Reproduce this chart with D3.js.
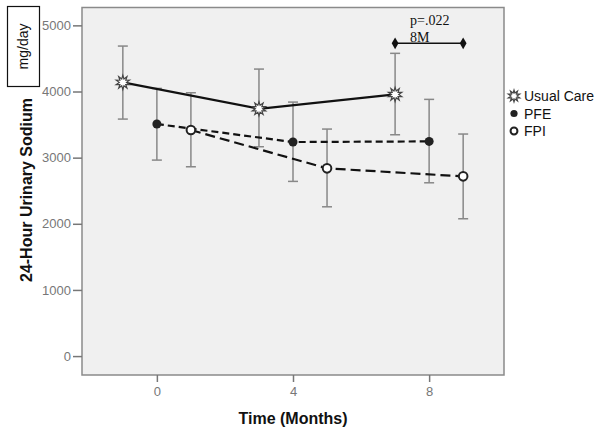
<!DOCTYPE html>
<html><head><meta charset="utf-8">
<script src="https://cdn.jsdelivr.net/npm/d3@7"></script>
<style>body{margin:0;background:#fff;}svg{display:block;font-family:"Liberation Sans",Arial,sans-serif;}</style>
</head><body>
<svg id="c" width="604" height="435"></svg>
<script>
const groups = ["Usual Care", "PFE", "FPI"];
const xTicks = [0, 4, 8];
const yTicks = [0, 1000, 2000, 3000, 4000, 5000];
const ucX = [-1, 3, 7];
const ucMean = [4138, 3739, 3956];
const ucHi = [4687, 4339, 4577];
const ucLo = [3583, 3165, 3346];
const pfeX = [0, 4, 8];
const pfeMean = [3508, 3236, 3246];
const pfeHi = [4047, 3840, 3881];
const pfeLo = [2963, 2641, 2620];
const fpiX = [1, 5, 9];
const fpiMean = [3417, 2838, 2717];
const fpiHi = [3981, 3432, 3357];
const fpiLo = [2862, 2257, 2076];
const annX = [7, 9];
const annY = 4728;
const annText = ["p=.022", "8M"];

const svg = d3.select("#c");
const L = 82, R = 504, T = 7.5, B = 375;
const x = d3.scaleLinear().domain([-2.2, 10.2]).range([L, R]);
const y = d3.scaleLinear().domain([-286, 5270]).range([B, T]);

svg.append("rect").attr("x", L).attr("y", T).attr("width", R - L).attr("height", B - T)
  .attr("fill", "#f0f0f0").attr("stroke", "#8a8a8a").attr("stroke-width", 1.5);

// axes
const gy = svg.append("g").attr("transform", `translate(${L},0)`)
  .call(d3.axisLeft(y).tickValues(yTicks).tickSize(9).tickPadding(2).tickFormat(d3.format("d")));
const gx = svg.append("g").attr("transform", `translate(0,${B})`)
  .call(d3.axisBottom(x).tickValues(xTicks).tickSize(7).tickPadding(5).tickFormat(d3.format("d")));
[gx, gy].forEach(g => {
  g.select(".domain").remove();
  g.selectAll("line").attr("stroke", "#777").attr("stroke-width", 1.5);
  g.selectAll("text").attr("fill", "#777").style("font-size", "13px");
});

// titles
svg.append("text").attr("x", 293).attr("y", 424).attr("text-anchor", "middle")
  .style("font-size", "16px").style("font-weight", "bold").attr("fill", "#111").text("Time (Months)");
svg.append("text").attr("transform", "translate(32,190) rotate(-90)").attr("text-anchor", "middle")
  .style("font-size", "16px").style("font-weight", "bold").attr("fill", "#111").text("24-Hour Urinary Sodium");
svg.append("rect").attr("x", 7.5).attr("y", 6.5).attr("width", 32).attr("height", 80)
  .attr("fill", "#fff").attr("stroke", "#111").attr("stroke-width", 1.2);
svg.append("text").attr("transform", "translate(28,46.5) rotate(-90)").attr("text-anchor", "middle")
  .style("font-size", "14px").attr("fill", "#111").text("mg/day");

const series = [
  {name: groups[0], xs: ucX, m: ucMean, hi: ucHi, lo: ucLo, dash: null, marker: "star"},
  {name: groups[1], xs: pfeX, m: pfeMean, hi: pfeHi, lo: pfeLo, dash: "7,4", marker: "dot"},
  {name: groups[2], xs: fpiX, m: fpiMean, hi: fpiHi, lo: fpiLo, dash: "10,5", marker: "ring"}
];

// error bars
series.forEach(s => {
  const g = svg.append("g").attr("stroke", "#888").attr("stroke-width", 1.5);
  s.xs.forEach((xv, i) => {
    g.append("line").attr("x1", x(xv)).attr("x2", x(xv)).attr("y1", y(s.hi[i])).attr("y2", y(s.lo[i]));
    [s.hi[i], s.lo[i]].forEach(v => g.append("line").attr("x1", x(xv) - 5).attr("x2", x(xv) + 5)
      .attr("y1", y(v)).attr("y2", y(v)));
  });
});

// lines
const line = d3.line().x(d => x(d[0])).y(d => y(d[1]));
series.forEach(s => {
  svg.append("path").attr("d", line(s.xs.map((xv, i) => [xv, s.m[i]])))
    .attr("fill", "none").attr("stroke", "#111").attr("stroke-width", 2.2)
    .attr("stroke-dasharray", s.dash);
});

function starPath(r1, r2, n) {
  const pts = [];
  for (let k = 0; k < 2 * n; k++) {
    const a = Math.PI * k / n - Math.PI / 2;
    const r = k % 2 === 0 ? r1 : r2;
    pts.push([r * Math.cos(a), r * Math.sin(a)]);
  }
  return "M" + pts.map(p => p.join(",")).join("L") + "Z";
}
function drawMarker(g, type, cx, cy, scale) {
  if (type === "star") {
    g.append("path").attr("d", starPath(7 * scale, 3.6 * scale, 10)).attr("transform", `translate(${cx},${cy})`)
      .attr("fill", "#fff").attr("stroke", "#444").attr("stroke-width", 1.2);
  } else if (type === "dot") {
    g.append("circle").attr("cx", cx).attr("cy", cy).attr("r", 4.5 * scale).attr("fill", "#222");
  } else {
    g.append("circle").attr("cx", cx).attr("cy", cy).attr("r", 4.3 * scale).attr("fill", "#fff")
      .attr("stroke", "#222").attr("stroke-width", 2);
  }
}
series.forEach(s => {
  s.xs.forEach((xv, i) => drawMarker(svg, s.marker, x(xv), y(s.m[i]), 1));
});

// annotation
svg.append("line").attr("x1", x(annX[0])).attr("x2", x(annX[1])).attr("y1", y(annY)).attr("y2", y(annY))
  .attr("stroke", "#111").attr("stroke-width", 1.5);
annX.forEach(v => svg.append("path").attr("d", d3.symbol(d3.symbolDiamond, 40)())
  .attr("transform", `translate(${x(v)},${y(annY)})`).attr("fill", "#111"));
svg.append("text").attr("x", x(annX[0]) + 15).attr("y", 25).style("font-family", "'Liberation Serif','Times New Roman',serif")
  .style("font-size", "14px").attr("fill", "#111").text(annText[0]);
svg.append("text").attr("x", x(annX[0]) + 15).attr("y", 41.5).style("font-family", "'Liberation Serif','Times New Roman',serif")
  .style("font-size", "14px").attr("fill", "#111").text(annText[1]);

// legend
const lg = svg.append("g");
series.forEach((s, i) => {
  const cy = 96 + i * 17.5;
  drawMarker(lg, s.marker, 514, cy, i === 0 ? 0.85 : 0.8);
  lg.append("text").attr("x", 524).attr("y", cy + 5).style("font-size", "14px").attr("fill", "#111").text(s.name);
});
</script>
</body></html>
